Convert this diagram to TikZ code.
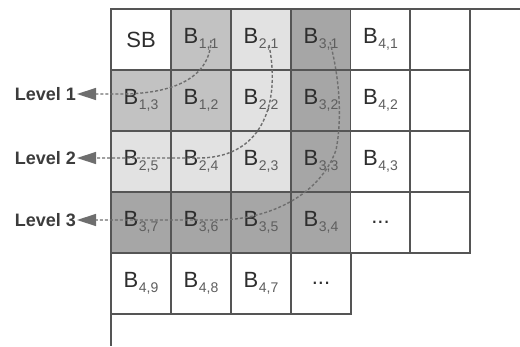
\documentclass[tikz,border=0pt]{standalone}
\usepackage{fontspec}
\setmainfont{Liberation Sans}
\usetikzlibrary{arrows.meta}
\definecolor{gmid}{HTML}{C2C2C2}
\definecolor{glight}{HTML}{E2E2E2}
\definecolor{gdark}{HTML}{A6A6A6}
\definecolor{gridc}{HTML}{555555}
\definecolor{txtc}{HTML}{2E2E2E}
\definecolor{subc}{HTML}{5E5E5E}
\definecolor{arrc}{HTML}{6E6E6E}
\definecolor{lvlc}{HTML}{3C3C3C}
\newcommand\cellB[1]{B\kern0.5pt\raisebox{-5pt}{\fontsize{14}{14}\selectfont\color{subc}#1}}
\begin{document}
\begin{tikzpicture}[x=1pt,y=-1pt,
  cell/.style={draw=gridc, line width=1.1pt, minimum width=60pt, minimum height=61pt,
    inner sep=0pt, anchor=center, font=\fontsize{22}{24}\selectfont, text=txtc},
  lvl/.style={anchor=east, inner sep=1pt, font=\bfseries\fontsize{18}{20}\selectfont, text=lvlc},
  conn/.style={draw=arrc, line width=1.4pt, dash pattern=on 3pt off 2pt,
    -{Triangle[length=19pt,width=12pt,fill=arrc,sep=0pt]}},
  frame/.style={draw=gridc, line width=1.1pt}]
\useasboundingbox (0,0) rectangle (520,346);
% outer frame lines
\coordinate (ftl) at (111,9);
\coordinate (ftr) at (520,9);
\coordinate (fbl) at (111,346);
\draw[frame] (ftr) -- (ftl) -- (fbl);
% row 1
\node[cell, fill=white]  (r1c1) at (141,39.5) {SB};
\node[cell, fill=gmid]   (r1c2) at (201,39.5) {\cellB{1,1}};
\node[cell, fill=glight] (r1c3) at (261,39.5) {\cellB{2,1}};
\node[cell, fill=gdark]  (r1c4) at (321,39.5) {\cellB{3,1}};
\node[cell, fill=white]  (r1c5) at (380.5,39.5) {\cellB{4,1}};
\node[cell, fill=white]  (r1c6) at (440,39.5) {};
% row 2
\node[cell, fill=gmid]   (r2c1) at (141,100.5) {\cellB{1,3}};
\node[cell, fill=gmid]   (r2c2) at (201,100.5) {\cellB{1,2}};
\node[cell, fill=glight] (r2c3) at (261,100.5) {\cellB{2,2}};
\node[cell, fill=gdark]  (r2c4) at (321,100.5) {\cellB{3,2}};
\node[cell, fill=white]  (r2c5) at (380.5,100.5) {\cellB{4,2}};
\node[cell, fill=white]  (r2c6) at (440,100.5) {};
% row 3
\node[cell, fill=glight] (r3c1) at (141,161.5) {\cellB{2,5}};
\node[cell, fill=glight] (r3c2) at (201,161.5) {\cellB{2,4}};
\node[cell, fill=glight] (r3c3) at (261,161.5) {\cellB{2,3}};
\node[cell, fill=gdark]  (r3c4) at (321,161.5) {\cellB{3,3}};
\node[cell, fill=white]  (r3c5) at (380.5,161.5) {\cellB{4,3}};
\node[cell, fill=white]  (r3c6) at (440,161.5) {};
% row 4
\node[cell, fill=gdark]  (r4c1) at (141,222.5) {\cellB{3,7}};
\node[cell, fill=gdark]  (r4c2) at (201,222.5) {\cellB{3,6}};
\node[cell, fill=gdark]  (r4c3) at (261,222.5) {\cellB{3,5}};
\node[cell, fill=gdark]  (r4c4) at (321,222.5) {\cellB{3,4}};
\node[cell, fill=white]  (r4c5) at (380.5,222.5) {...};
\node[cell, fill=white]  (r4c6) at (440,222.5) {};
% row 5
\node[cell, fill=white]  (r5c1) at (141,283.5) {\cellB{4,9}};
\node[cell, fill=white]  (r5c2) at (201,283.5) {\cellB{4,8}};
\node[cell, fill=white]  (r5c3) at (261,283.5) {\cellB{4,7}};
\node[cell, fill=white]  (r5c4) at (321,283.5) {...};
% level labels
\node[lvl] (L1) at (77,94) {Level 1};
\node[lvl] (L2) at (77,158) {Level 2};
\node[lvl] (L3) at (77,220) {Level 3};
% dashed connectors
\coordinate (s1) at (211,40);
\coordinate (s2) at (269,45);
\coordinate (s3) at (330,42);
\draw[conn] (s1) .. controls (210,80) and (170,93) .. (125,94) -- (L1.east);
\draw[conn] (s2) .. controls (280,100) and (265,157) .. (200,158) -- (L2.east);
\draw[conn] (s3) .. controls (340,80) and (342,120) .. (336,150)
  .. controls (320,195) and (270,219) .. (220,220) -- (L3.east);
\end{tikzpicture}
\end{document}
